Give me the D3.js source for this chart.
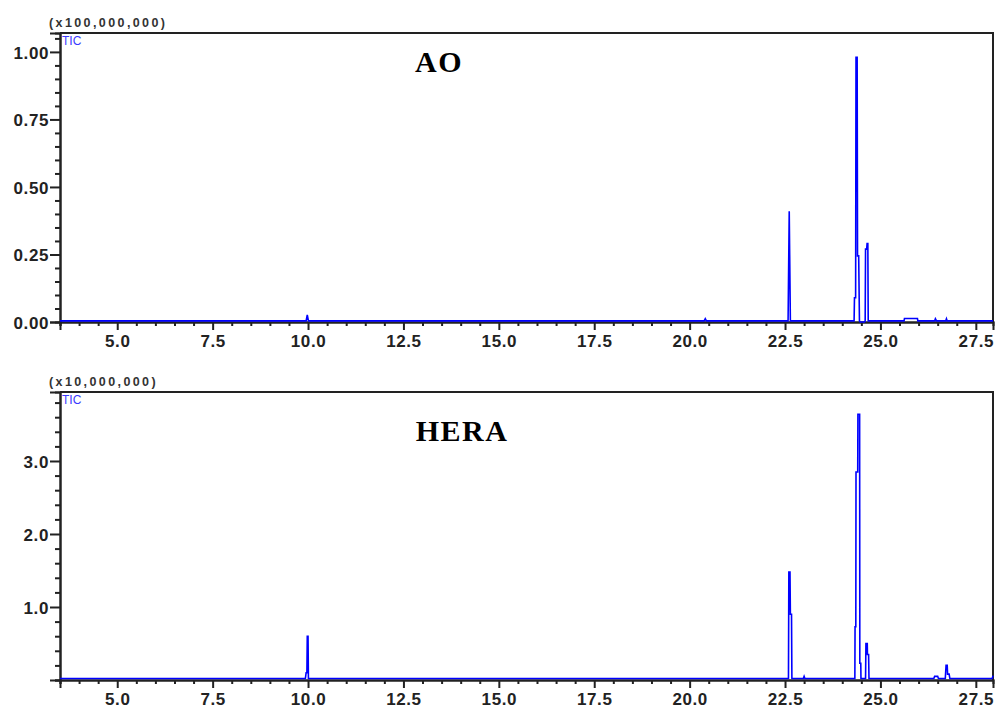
<!DOCTYPE html>
<html>
<head>
<meta charset="utf-8">
<script src="https://cdn.jsdelivr.net/npm/d3@7"></script>
<style>
  html, body { margin: 0; padding: 0; background: #fff; }
  svg { display: block; }
  .tick-label { font-family: "Liberation Sans", Arial, sans-serif; font-weight: bold; font-size: 17px; fill: #222; letter-spacing: 0.6px; }
  .mult { font-family: "Liberation Sans", Arial, sans-serif; font-weight: bold; font-size: 12.5px; fill: #333; letter-spacing: 2.4px; }
  .tic { font-family: "Liberation Sans", Arial, sans-serif; font-size: 12px; fill: #3a3aff; }
  .title { font-family: "Liberation Serif", "Times New Roman", serif; font-weight: bold; font-size: 30px; fill: #000; letter-spacing: 1.5px; }
</style>
</head>
<body>
<svg id="chart" width="998" height="711"></svg>
<script>
// Retention time axis (minutes)
const xTicksMajor = [5.0, 7.5, 10.0, 12.5, 15.0, 17.5, 20.0, 22.5, 25.0, 27.5];

// AO total ion chromatogram (x100,000,000)
const aoTime = [3.5, 9.95, 9.98, 10.01, 20.38, 20.41, 20.44, 22.58, 22.61, 22.64,
  24.31, 24.32, 24.35, 24.36, 24.39, 24.40, 24.43, 24.45, 24.47, 24.58, 24.60, 24.61,
  24.64, 24.65, 24.67, 24.68, 25.62, 25.63, 25.97, 25.98, 26.42, 26.44, 26.47,
  26.71, 26.73, 26.75, 27.95];
const aoSignal = [0.004, 0.004, 0.026, 0.004, 0.004, 0.012, 0.004, 0.004, 0.41, 0.004,
  0.004, 0.09, 0.09, 0.98, 0.98, 0.245, 0.245, 0.004, 0.0, 0.0, 0.004, 0.27,
  0.27, 0.29, 0.29, 0.004, 0.004, 0.013, 0.013, 0.004, 0.004, 0.012, 0.004,
  0.004, 0.012, 0.004, 0.004];
const aoYTicks = [0.00, 0.25, 0.50, 0.75, 1.00];

// HERA total ion chromatogram (x10,000,000)
const heraTime = [3.5, 9.93, 9.95, 9.97, 9.98, 10.0, 10.01, 22.59, 22.60, 22.63,
  22.64, 22.67, 22.68, 22.98, 23.0, 23.02, 24.33, 24.335, 24.355, 24.36, 24.405,
  24.41, 24.455, 24.46, 24.485, 24.49, 24.61, 24.62, 24.655, 24.66, 24.69, 24.70,
  26.40, 26.42, 26.50, 26.52, 26.70, 26.72, 26.75, 26.76, 26.80, 26.82, 27.93, 27.95];
const heraSignal = [0.02, 0.02, 0.1, 0.1, 0.6, 0.6, 0.02, 0.02, 1.48, 1.48,
  0.9, 0.9, 0.02, 0.02, 0.05, 0.02, 0.02, 0.73, 0.73, 2.85, 2.85,
  3.64, 3.64, 0.23, 0.23, 0.02, 0.02, 0.5, 0.5, 0.35, 0.35, 0.02,
  0.02, 0.05, 0.05, 0.02, 0.02, 0.2, 0.2, 0.08, 0.08, 0.02, 0.02, 0.06];
const heraYTicks = [1.0, 2.0, 3.0];

const svg = d3.select("#chart");

function drawPanel(cfg) {
  const x = d3.scaleLinear().domain([3.5, 27.95]).range([60, 993]);
  const y = d3.scaleLinear().domain([0, cfg.yMax]).range([cfg.bottom, cfg.top]);
  const g = svg.append("g");

  // frame (top and right edges)
  g.append("path")
    .attr("d", `M60,${cfg.top}H993V${cfg.bottom}`)
    .attr("fill", "none").attr("stroke", "#222").attr("stroke-width", 2);

  // x axis with minor ticks every 0.5 min
  const xMinor = d3.range(3.5, 27.951, 0.5).filter(v => !xTicksMajor.some(m => Math.abs(m - v) < 1e-6));
  const xAxisMajor = d3.axisBottom(x).tickValues(xTicksMajor).tickSize(8).tickPadding(5)
    .tickFormat(d3.format(".1f"));
  const xAxisMinor = d3.axisBottom(x).tickValues(xMinor).tickSize(4).tickFormat("");
  const gxMinor = g.append("g").attr("transform", `translate(0,${cfg.bottom})`).call(xAxisMinor);
  const gx = g.append("g").attr("transform", `translate(0,${cfg.bottom})`).call(xAxisMajor);
  [gx, gxMinor].forEach(a => {
    a.select(".domain").attr("stroke", "#222").attr("stroke-width", 2);
    a.selectAll(".tick line").attr("stroke", "#222").attr("stroke-width", 2);
  });
  gx.selectAll(".tick text").attr("class", "tick-label").attr("dy", "0.72em");

  // y axis with minor ticks
  const yMinor = d3.range(0, cfg.yMax + 1e-9, cfg.minorStep)
    .filter(v => !cfg.yTicks.some(m => Math.abs(m - v) < 1e-6));
  const yAxisMajor = d3.axisLeft(y).tickValues(cfg.yTicks).tickSize(10).tickPadding(1)
    .tickFormat(d3.format(cfg.fmt));
  const yAxisMinor = d3.axisLeft(y).tickValues(yMinor).tickSize(5).tickFormat("");
  const gyMinor = g.append("g").attr("transform", "translate(60,0)").call(yAxisMinor);
  const gy = g.append("g").attr("transform", "translate(60,0)").call(yAxisMajor);
  [gy, gyMinor].forEach(a => {
    a.select(".domain").attr("stroke", "#222").attr("stroke-width", 2);
    a.selectAll(".tick line").attr("stroke", "#222").attr("stroke-width", 2);
  });
  gy.selectAll(".tick text").attr("class", "tick-label").attr("dy", "0.36em");

  // chromatogram trace
  const pts = cfg.time.map((t, i) => [t, cfg.signal[i]]);
  const line = d3.line().x(d => x(d[0])).y(d => y(d[1]));
  g.append("path").datum(pts).attr("d", line)
    .attr("fill", "none").attr("stroke", "#0000ff").attr("stroke-width", 1.6)
    .attr("stroke-linejoin", "miter");

  // labels
  g.append("text").attr("class", "mult").attr("x", 49).attr("y", cfg.top - 6).text(cfg.mult);
  g.append("text").attr("class", "tic").attr("x", 62).attr("y", cfg.top + 12).text("TIC");
  g.append("text").attr("class", "title").attr("x", cfg.titleX).attr("y", cfg.titleY)
    .attr("text-anchor", "middle").text(cfg.title);
}

drawPanel({
  top: 33, bottom: 322, yMax: 1.07, yTicks: aoYTicks, minorStep: 0.05, fmt: ".2f",
  time: aoTime, signal: aoSignal, mult: "(x100,000,000)",
  title: "AO", titleX: 439, titleY: 72
});

drawPanel({
  top: 392, bottom: 680, yMax: 3.945, yTicks: heraYTicks, minorStep: 0.2, fmt: ".1f",
  time: heraTime, signal: heraSignal, mult: "(x10,000,000)",
  title: "HERA", titleX: 462, titleY: 441
});
</script>
</body>
</html>
